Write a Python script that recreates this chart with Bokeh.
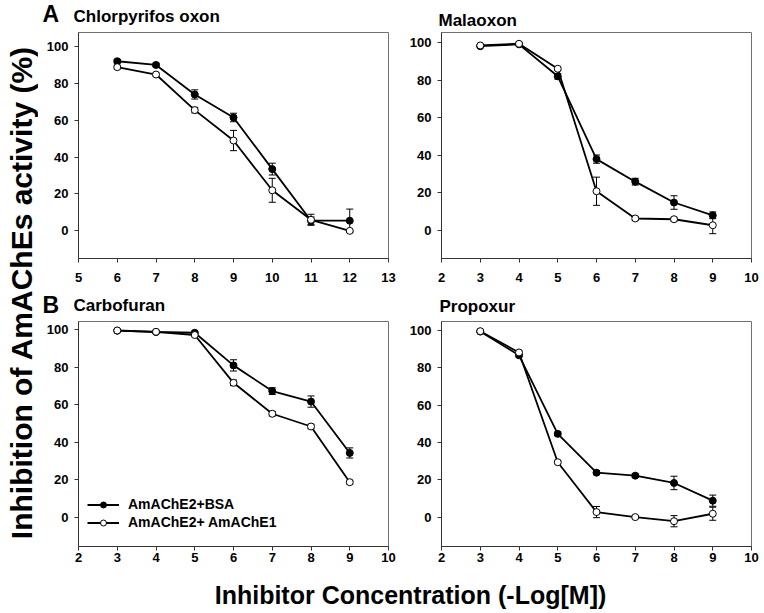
import math
from bokeh.plotting import figure
from bokeh.models import (Range1d, ColumnDataSource, Whisker, TeeHead,
                          Legend, LegendItem, FixedTicker)
from bokeh.layouts import row, column
from bokeh.embed import file_html
from bokeh.resources import INLINE
from bokeh.core.properties import value

FONT = "Liberation Sans"

# ---------------- data ----------------
series_names = ["AmAChE2+BSA", "AmAChE2+ AmAChE1"]
panel_letters = ["A", "B"]
panel_names = ["Chlorpyrifos oxon", "Malaoxon", "Carbofuran", "Propoxur"]
yticks = [0, 20, 40, 60, 80, 100]
xticks_chl = [5, 6, 7, 8, 9, 10, 11, 12, 13]
xticks_other = [2, 3, 4, 5, 6, 7, 8, 9, 10]

chl_x = [6, 7, 8, 9, 10, 11, 12]
chl_bsa = [92, 90, 74, 61.5, 33.5, 5.5, 5.5]
chl_bsa_err = [1, 1, 2.5, 2.3, 3.2, 2, 6.3]
chl_e1 = [88.8, 84.8, 65.5, 49, 22, 6, 0]
chl_e1_err = [1, 0.8, 1.5, 5.5, 6.5, 3, 0.5]

mal_x = [3, 4, 5, 6, 7, 8, 9]
mal_bsa = [98, 99, 82, 37.9, 25.9, 14.8, 8]
mal_bsa_err = [0.5, 0.5, 1.5, 2.2, 1.8, 3.6, 1.8]
mal_e1 = [98.4, 99.3, 86, 20.8, 6.3, 5.9, 2.7]
mal_e1_err = [0.5, 0.5, 0.8, 7.5, 1, 1, 4.5]

car_x = [3, 4, 5, 6, 7, 8, 9]
car_bsa = [99.5, 98.8, 98.4, 81, 67.3, 61.7, 34.3]
car_bsa_err = [0.5, 0.5, 0.8, 3, 1.8, 3, 2.7]
car_e1 = [99.6, 98.9, 97.2, 71.7, 55.2, 48.4, 18.7]
car_e1_err = [0.5, 0.6, 0.8, 1.5, 1.2, 1.2, 1]

pro_x = [3, 4, 5, 6, 7, 8, 9]
pro_bsa = [99.4, 86.7, 44.6, 23.8, 22.2, 18.3, 8.8]
pro_bsa_err = [0.5, 0.8, 1, 1, 1, 3.6, 3]
pro_e1 = [99.6, 88.2, 29.4, 2.7, 0, -2.2, 1.8]
pro_e1_err = [0.5, 0.8, 0.8, 3, 0.8, 3, 3.5]


def make_panel(x, bsa, bsa_err, e1, e1_err, xr, yr, xticks, width, height,
               bl, br, bt, bb, x_standoff, legend=False):
    p = figure(width=width, height=height, x_range=Range1d(*xr),
               y_range=Range1d(*yr), output_backend="svg",
               toolbar_location=None, title=None,
               min_border_left=bl, min_border_right=br,
               min_border_top=bt, min_border_bottom=bb)
    p.grid.visible = False
    p.outline_line_color = "#707070"
    p.outline_line_width = 1
    p.background_fill_color = "white"
    p.border_fill_color = "white"
    p.xaxis.ticker = FixedTicker(ticks=xticks)
    p.yaxis.ticker = FixedTicker(ticks=yticks)
    for ax in (p.xaxis, p.yaxis):
        ax.axis_line_color = "#333333"
        ax.major_tick_line_color = "#333333"
        ax.major_tick_out = 4
        ax.major_tick_in = 0
        ax.minor_tick_line_color = None
        ax.major_label_text_font = FONT
        ax.major_label_text_font_style = "bold"
        ax.major_label_text_font_size = "13px"
        ax.major_label_text_color = "black"
    p.xaxis.major_label_standoff = x_standoff
    p.yaxis.major_label_standoff = 6

    src_b = ColumnDataSource(dict(x=x, y=bsa,
                                  lo=[a - e for a, e in zip(bsa, bsa_err)],
                                  hi=[a + e for a, e in zip(bsa, bsa_err)]))
    src_e = ColumnDataSource(dict(x=x, y=e1,
                                  lo=[a - e for a, e in zip(e1, e1_err)],
                                  hi=[a + e for a, e in zip(e1, e1_err)]))
    for src in (src_b, src_e):
        w = Whisker(source=src, base="x", upper="hi", lower="lo",
                    line_color="black", line_width=1,
                    upper_head=TeeHead(size=7, line_color="black", line_width=1),
                    lower_head=TeeHead(size=7, line_color="black", line_width=1))
        p.add_layout(w)
    lb = p.line("x", "y", source=src_b, line_color="black", line_width=1.8)
    sb = p.scatter("x", "y", source=src_b, size=7, marker="circle",
                   fill_color="black", line_color="black", line_width=1)
    le = p.line("x", "y", source=src_e, line_color="black", line_width=1.8)
    se = p.scatter("x", "y", source=src_e, size=7, marker="circle",
                   fill_color="white", line_color="black", line_width=1)

    if legend:
        lg = Legend(items=[LegendItem(label=series_names[0], renderers=[lb, sb]),
                           LegendItem(label=series_names[1], renderers=[le, se])],
                    location=(9, 16), padding=0, margin=0, spacing=2,
                    glyph_width=32, glyph_height=15, label_height=15,
                    label_standoff=9, background_fill_alpha=0,
                    border_line_color=None,
                    label_text_font=FONT, label_text_font_style="bold",
                    label_text_font_size="14px", label_text_color="black")
        p.add_layout(lg, "center")
    return p


def text_fig(w, h):
    f = figure(width=w, height=h, x_range=Range1d(0, w), y_range=Range1d(0, h),
               output_backend="svg", toolbar_location=None, title=None,
               x_axis_type=None, y_axis_type=None, min_border=0)
    f.grid.visible = False
    f.outline_line_color = None
    f.border_fill_color = "white"
    f.background_fill_color = "white"
    return f


def put(f, x, y, txt, size, angle=0.0, align="left"):
    f.text(x=[x], y=[y], text=[txt], angle=angle, text_align=align,
           text_baseline="alphabetic", text_font=value(FONT),
           text_font_style="bold", text_font_size=size, text_color="black")


# panel title strips
strip1 = text_fig(726, 29)
put(strip1, 4, 15.5, panel_letters[0], "23px")
put(strip1, 35, 12.6, panel_names[0], "17px")
put(strip1, 400, 8.6, panel_names[1], "17px")

strip2 = text_fig(726, 29)
put(strip2, 4, 13.6, panel_letters[1], "23px")
put(strip2, 35, 12.6, panel_names[2], "17px")
put(strip2, 401, 11.6, panel_names[3], "17px")

pA = make_panel(chl_x, chl_bsa, chl_bsa_err, chl_e1, chl_e1_err,
                (5, 13), (-15, 107.6), xticks_chl, 360, 260, 40, 10, 3, 31, 10)
pM = make_panel(mal_x, mal_bsa, mal_bsa_err, mal_e1, mal_e1_err,
                (2, 10), (-15, 105.3), xticks_other, 366, 260, 43, 13, 3, 31, 10)
pB = make_panel(car_x, car_bsa, car_bsa_err, car_e1, car_e1_err,
                (2, 10), (-15.6, 104.4), xticks_other, 360, 252, 40, 10, 3, 24, 2,
                legend=True)
pP = make_panel(pro_x, pro_bsa, pro_bsa_err, pro_e1, pro_e1_err,
                (2, 10), (-15.75, 104.8), xticks_other, 366, 252, 43, 13, 3, 24, 2)

ylab = text_fig(38, 612)
put(ylab, 21, 320, "Inhibition of AmAChEs activity (%)", "30px",
    angle=math.pi / 2, align="center")

xlab = text_fig(726, 42)
put(xlab, 372, 18, "Inhibitor Concentration (-Log[M])", "25px", align="center")

layout = row(ylab, column(strip1, row(pA, pM), strip2, row(pB, pP), xlab))

open("out.html", "w").write(file_html(layout, INLINE))
